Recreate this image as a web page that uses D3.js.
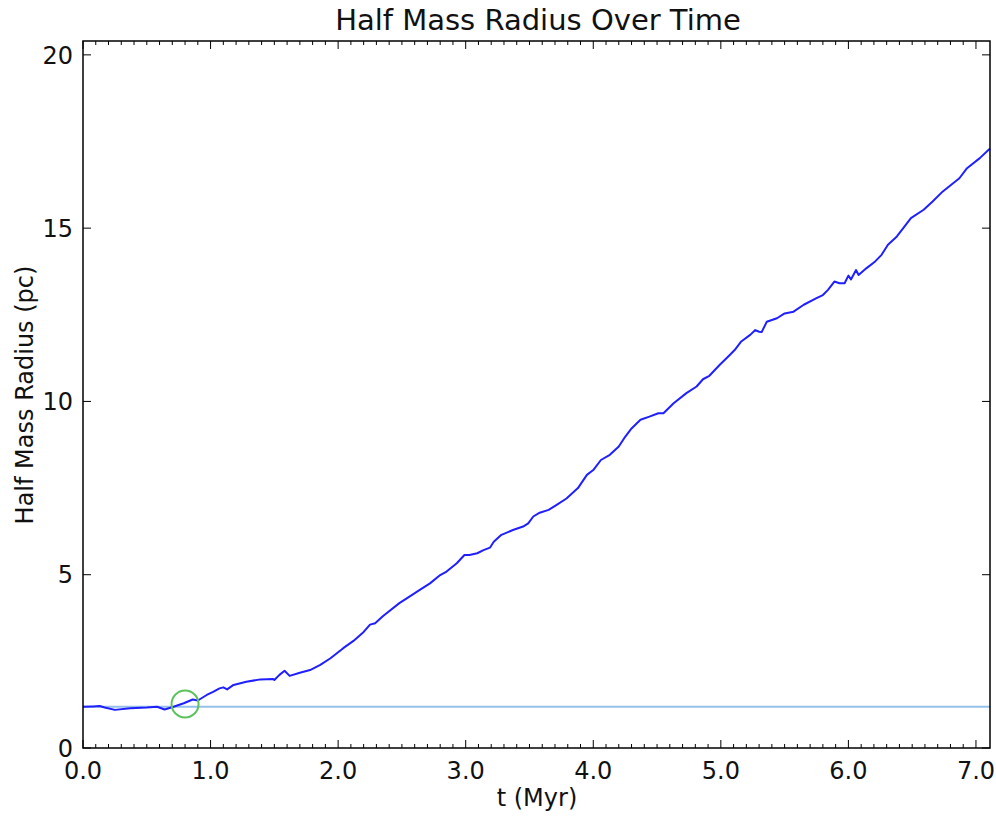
<!DOCTYPE html>
<html>
<head>
<meta charset="utf-8">
<script src="https://cdn.jsdelivr.net/npm/d3@7"></script>
<style>
  body { margin: 0; background: #fff; }
  svg { display: block; font-family: "DejaVu Sans", sans-serif; }
</style>
</head>
<body>
<svg id="chart" width="996" height="817"></svg>
<script>
// ---- data ----
const title = "Half Mass Radius Over Time";
const xLabel = "t (Myr)";
const yLabel = "Half Mass Radius (pc)";
const xTicks = [0, 1, 2, 3, 4, 5, 6, 7];
const yTicks = [0, 5, 10, 15, 20];
const time = [0.00,0.08,0.13,0.17,0.25,0.37,0.50,0.58,0.64,0.71,0.79,0.86,0.90,0.97,1.02,1.07,1.10,1.13,1.18,1.28,1.39,1.49,1.50,1.54,1.58,1.62,1.70,1.78,1.86,1.94,2.04,2.12,2.20,2.25,2.29,2.35,2.48,2.58,2.64,2.72,2.80,2.85,2.93,2.99,3.03,3.09,3.14,3.19,3.22,3.28,3.37,3.45,3.49,3.53,3.58,3.65,3.71,3.79,3.88,3.95,4.00,4.06,4.13,4.20,4.25,4.30,4.37,4.44,4.51,4.55,4.63,4.73,4.81,4.86,4.91,4.99,5.07,5.11,5.16,5.23,5.27,5.30,5.32,5.36,5.44,5.50,5.57,5.65,5.75,5.80,5.84,5.89,5.93,5.97,6.00,6.02,6.06,6.08,6.14,6.21,6.26,6.31,6.38,6.43,6.49,6.59,6.66,6.74,6.87,6.93,7.03,7.11];
const radius = [1.19,1.20,1.21,1.17,1.10,1.15,1.17,1.19,1.11,1.19,1.29,1.40,1.37,1.53,1.62,1.72,1.75,1.69,1.82,1.91,1.98,1.99,1.96,2.11,2.23,2.08,2.17,2.25,2.40,2.59,2.88,3.09,3.35,3.56,3.60,3.80,4.18,4.42,4.56,4.75,4.99,5.09,5.33,5.57,5.57,5.62,5.71,5.78,5.95,6.15,6.29,6.39,6.48,6.68,6.79,6.87,7.01,7.20,7.50,7.88,8.02,8.31,8.46,8.70,8.98,9.22,9.47,9.56,9.66,9.66,9.95,10.24,10.43,10.64,10.74,11.05,11.34,11.49,11.73,11.92,12.06,12.01,12.00,12.30,12.40,12.54,12.59,12.79,12.98,13.07,13.22,13.46,13.41,13.41,13.63,13.52,13.79,13.65,13.84,14.04,14.23,14.52,14.76,15.00,15.29,15.53,15.77,16.06,16.44,16.73,17.02,17.30];
const refLevel = 1.19;
const marker = { t: 0.80, r: 1.27 };

// ---- layout ----
const svg = d3.select("#chart");
const m = { left: 83, right: 990, top: 41, bottom: 748 };
const x = d3.scaleLinear().domain([0, 7.11]).range([m.left, m.right]);
const y = d3.scaleLinear().domain([0, 20.4]).range([m.bottom, m.top]);

// reference horizontal line
svg.append("line")
  .attr("x1", x(0)).attr("x2", x(7.11))
  .attr("y1", y(refLevel)).attr("y2", y(refLevel))
  .attr("stroke", "#94c0ea").attr("stroke-width", 2);

// data line
svg.append("path")
  .datum(time.map((t, i) => [t, radius[i]]))
  .attr("fill", "none")
  .attr("stroke", "#1f1fff")
  .attr("stroke-width", 2)
  .attr("stroke-linejoin", "round")
  .attr("d", d3.line().x(d => x(d[0])).y(d => y(d[1])));

// marker circle
svg.append("circle")
  .attr("cx", x(marker.t)).attr("cy", y(marker.r)).attr("r", 13.5)
  .attr("fill", "none").attr("stroke", "#5cc25c").attr("stroke-width", 2);

// ticks
const minor = d3.range(0, 71).map(i => i / 10).filter(v => Math.abs(v - Math.round(v)) > 1e-6 && v <= 7.11);
const tickG = svg.append("g").attr("stroke", "#000").attr("stroke-width", 1);
xTicks.forEach(v => {
  tickG.append("line").attr("x1", x(v)).attr("x2", x(v)).attr("y1", m.bottom).attr("y2", m.bottom - 8);
  tickG.append("line").attr("x1", x(v)).attr("x2", x(v)).attr("y1", m.top).attr("y2", m.top + 8);
});
minor.forEach(v => {
  tickG.append("line").attr("x1", x(v)).attr("x2", x(v)).attr("y1", m.bottom).attr("y2", m.bottom - 4);
  tickG.append("line").attr("x1", x(v)).attr("x2", x(v)).attr("y1", m.top).attr("y2", m.top + 4);
});
yTicks.forEach(v => {
  tickG.append("line").attr("x1", m.left).attr("x2", m.left + 8).attr("y1", y(v)).attr("y2", y(v));
  tickG.append("line").attr("x1", m.right).attr("x2", m.right - 8).attr("y1", y(v)).attr("y2", y(v));
});

// frame
svg.append("rect")
  .attr("x", m.left).attr("y", m.top)
  .attr("width", m.right - m.left).attr("height", m.bottom - m.top)
  .attr("fill", "none").attr("stroke", "#000").attr("stroke-width", 1.5);

// tick labels
svg.append("g").selectAll("text").data(xTicks).join("text")
  .attr("x", d => x(d)).attr("y", 779)
  .attr("text-anchor", "middle").attr("font-size", 24).attr("fill", "#111")
  .text(d => d.toFixed(1));
svg.append("g").selectAll("text").data(yTicks).join("text")
  .attr("x", 73).attr("y", d => y(d)).attr("dy", "0.36em")
  .attr("text-anchor", "end").attr("font-size", 24).attr("fill", "#111")
  .text(d => d);

// titles
svg.append("text").attr("x", 538).attr("y", 30).attr("text-anchor", "middle")
  .attr("font-size", 29).attr("fill", "#111").text(title);
svg.append("text").attr("x", 537).attr("y", 806).attr("text-anchor", "middle")
  .attr("font-size", 24).attr("fill", "#111").text(xLabel);
svg.append("text").attr("transform", "translate(33,395) rotate(-90)").attr("text-anchor", "middle")
  .attr("font-size", 24).attr("fill", "#111").text(yLabel);
</script>
</body>
</html>
